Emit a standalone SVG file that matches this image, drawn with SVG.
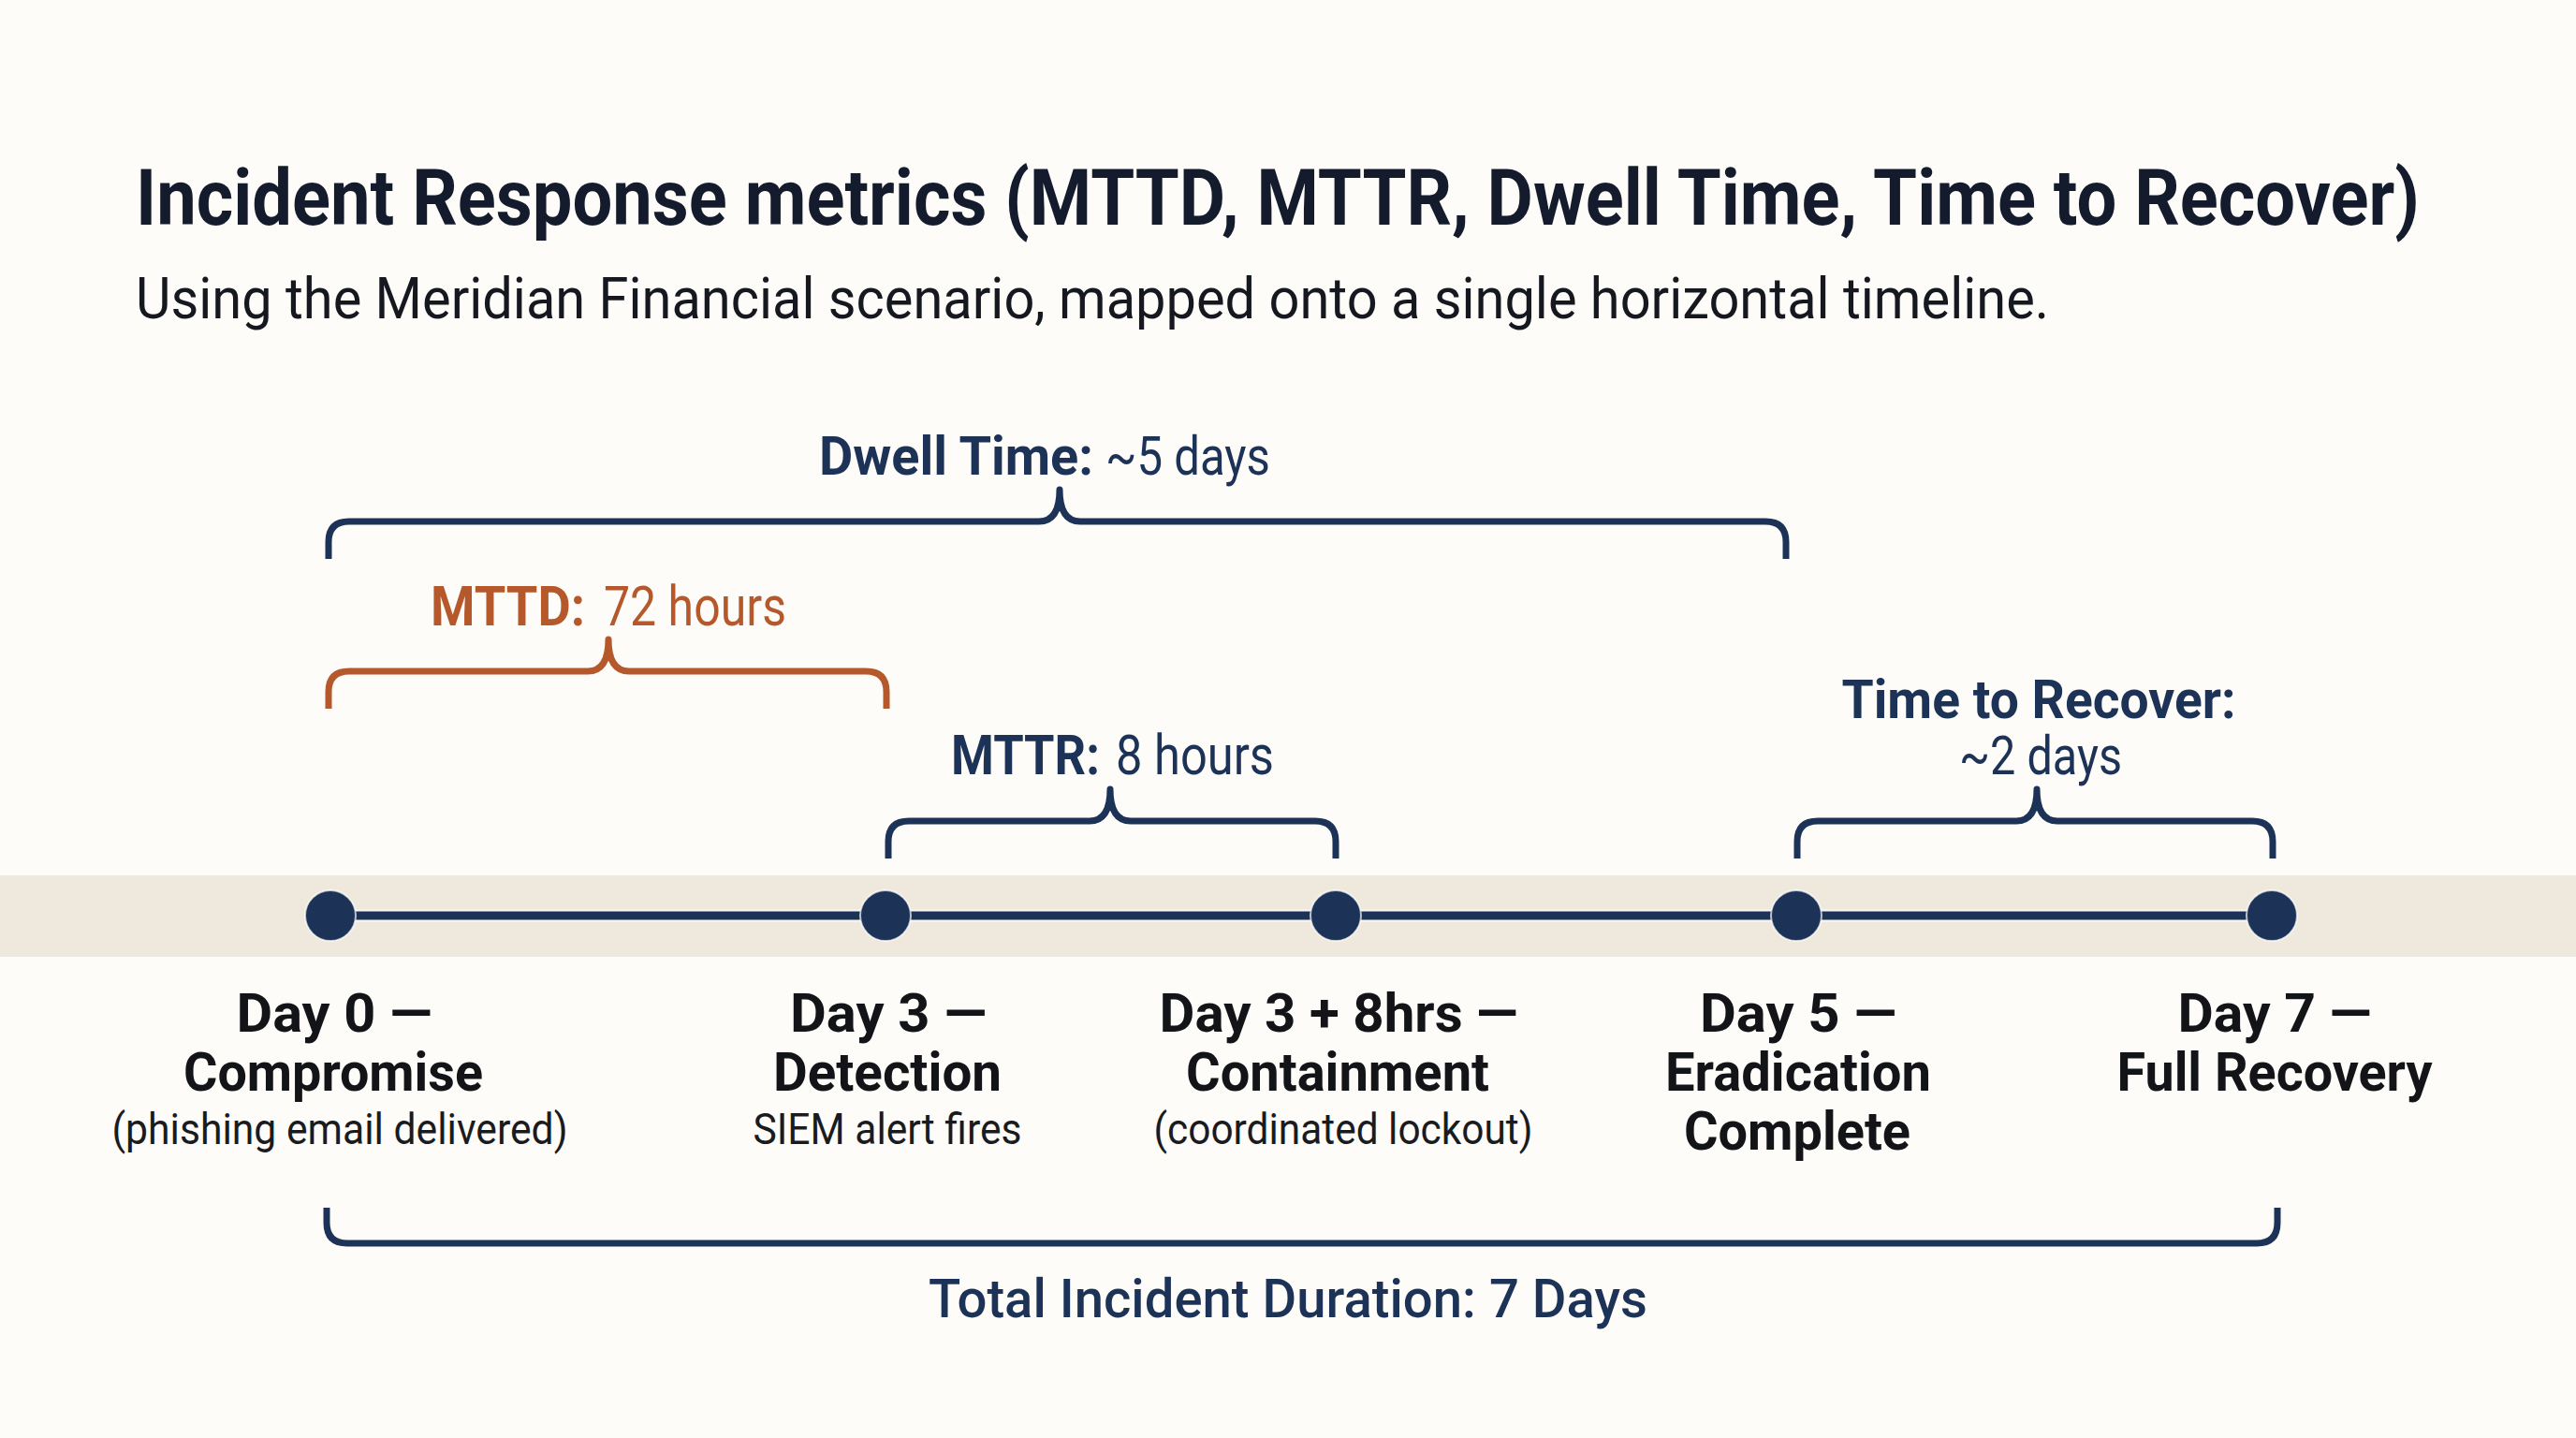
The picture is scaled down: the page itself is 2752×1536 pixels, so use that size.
<svg xmlns="http://www.w3.org/2000/svg" width="2752" height="1536" viewBox="0 0 2752 1536">
<style>
.t{font-family:Roboto,"Liberation Sans",sans-serif}
.navy{fill:#1c3256}
.b{font-weight:700}
.r{font-weight:400}
.lbl{font-family:Roboto,"Liberation Sans",sans-serif;font-size:58px;font-weight:700;fill:#121417;text-anchor:middle}
.sub{font-family:Roboto,"Liberation Sans",sans-serif;font-size:46px;font-weight:400;fill:#1a1b1e;text-anchor:middle}
.brace{fill:none;stroke:#1c3256;stroke-width:7;stroke-linecap:butt;stroke-linejoin:round}
.brace.o{stroke:#b5592c}
.dot{fill:#1c3256;stroke:#ffffff;stroke-width:2;stroke-opacity:0.7}
</style>
<rect x="0" y="0" width="2752" height="1536" fill="#fdfcf9"/>
<rect x="0" y="935" width="2752" height="87" fill="#efe9dd"/>

<g id="title">
<text class="t b" x="145" y="240" font-size="84" fill="#141b2c" textLength="2440" lengthAdjust="spacingAndGlyphs">Incident Response metrics (MTTD, MTTR, Dwell Time, Time to Recover)</text>
<text class="t r" x="145" y="340" font-size="62" fill="#15181f" textLength="2044" lengthAdjust="spacingAndGlyphs">Using the Meridian Financial scenario, mapped onto a single horizontal timeline.</text>
</g>

<g id="connectors">
<line x1="353" y1="978" x2="2427" y2="978" stroke="#ffffff" stroke-width="13" stroke-opacity="0.6"/>
<line x1="353" y1="978" x2="2427" y2="978" stroke="#1c3256" stroke-width="9"/>
<path class="brace" d="M351,597 V579 Q351,557 373,557 H1110 Q1132,557 1132,523 Q1132,557 1154,557 H1886 Q1908,557 1908,579 V597"/>
<path class="brace o" d="M351,757 V739 Q351,717 373,717 H628 Q650,717 650,683 Q650,717 672,717 H925 Q947,717 947,739 V757"/>
<path class="brace" d="M949,917 V899 Q949,877 971,877 H1164 Q1186,877 1186,843 Q1186,877 1208,877 H1405 Q1427,877 1427,899 V917"/>
<path class="brace" d="M1920,917 V899 Q1920,877 1942,877 H2154 Q2176,877 2176,843 Q2176,877 2198,877 H2406 Q2428,877 2428,899 V917"/>
<path class="brace" d="M349,1290 V1306 Q349,1328 371,1328 H2411 Q2433,1328 2433,1306 V1290"/>
</g>

<g id="dwell-label">
<text class="t navy b" x="875" y="507" font-size="58" textLength="293" lengthAdjust="spacingAndGlyphs">Dwell Time:</text>
<text class="t navy r" x="1181" y="507" font-size="58" textLength="176" lengthAdjust="spacingAndGlyphs">~5 days</text>
</g>
<g id="mttd-label">
<text class="t b" x="460" y="668" font-size="60" fill="#b5592c" textLength="165" lengthAdjust="spacingAndGlyphs">MTTD:</text>
<text class="t r" x="645" y="668" font-size="60" fill="#b5592c" textLength="195" lengthAdjust="spacingAndGlyphs">72 hours</text>
</g>
<g id="mttr-label">
<text class="t navy b" x="1016" y="827" font-size="59" textLength="159" lengthAdjust="spacingAndGlyphs">MTTR:</text>
<text class="t navy r" x="1192" y="827" font-size="59" textLength="169" lengthAdjust="spacingAndGlyphs">8 hours</text>
</g>
<g id="ttr-label">
<text class="t navy b" x="2178" y="767" font-size="58" text-anchor="middle" textLength="421" lengthAdjust="spacingAndGlyphs">Time to Recover:</text>
<text class="t navy r" x="2180" y="827" font-size="58" text-anchor="middle" textLength="174" lengthAdjust="spacingAndGlyphs">~2 days</text>
</g>

<g id="day0">
<circle class="dot" cx="353" cy="978" r="27"/>
<text class="lbl" x="357" y="1102" textLength="209" lengthAdjust="spacingAndGlyphs">Day 0 —</text>
<text class="lbl" x="356" y="1165" textLength="320" lengthAdjust="spacingAndGlyphs">Compromise</text>
<text class="sub" x="363" y="1222" textLength="487" lengthAdjust="spacingAndGlyphs">(phishing email delivered)</text>
</g>
<g id="day3">
<circle class="dot" cx="946" cy="978" r="27"/>
<text class="lbl" x="949" y="1102" textLength="210" lengthAdjust="spacingAndGlyphs">Day 3 —</text>
<text class="lbl" x="948" y="1165" textLength="244" lengthAdjust="spacingAndGlyphs">Detection</text>
<text class="sub" x="948" y="1222" textLength="287" lengthAdjust="spacingAndGlyphs">SIEM alert fires</text>
</g>
<g id="day3-8hrs">
<circle class="dot" cx="1427" cy="978" r="27"/>
<text class="lbl" x="1430" y="1102" textLength="383" lengthAdjust="spacingAndGlyphs">Day 3 + 8hrs —</text>
<text class="lbl" x="1429" y="1165" textLength="324" lengthAdjust="spacingAndGlyphs">Containment</text>
<text class="sub" x="1435" y="1222" textLength="405" lengthAdjust="spacingAndGlyphs">(coordinated lockout)</text>
</g>
<g id="day5">
<circle class="dot" cx="1919" cy="978" r="27"/>
<text class="lbl" x="1921" y="1102" textLength="210" lengthAdjust="spacingAndGlyphs">Day 5 —</text>
<text class="lbl" x="1921" y="1165" textLength="284" lengthAdjust="spacingAndGlyphs">Eradication</text>
<text class="lbl" x="1920" y="1228" textLength="242" lengthAdjust="spacingAndGlyphs">Complete</text>
</g>
<g id="day7">
<circle class="dot" cx="2427" cy="978" r="27"/>
<text class="lbl" x="2430" y="1102" textLength="207" lengthAdjust="spacingAndGlyphs">Day 7 —</text>
<text class="lbl" x="2430" y="1165" textLength="337" lengthAdjust="spacingAndGlyphs">Full Recovery</text>
</g>

<g id="total-label">
<text class="t navy" x="1376" y="1407" font-size="58" font-weight="500" text-anchor="middle" textLength="768" lengthAdjust="spacingAndGlyphs">Total Incident Duration: 7 Days</text>
</g>
</svg>
